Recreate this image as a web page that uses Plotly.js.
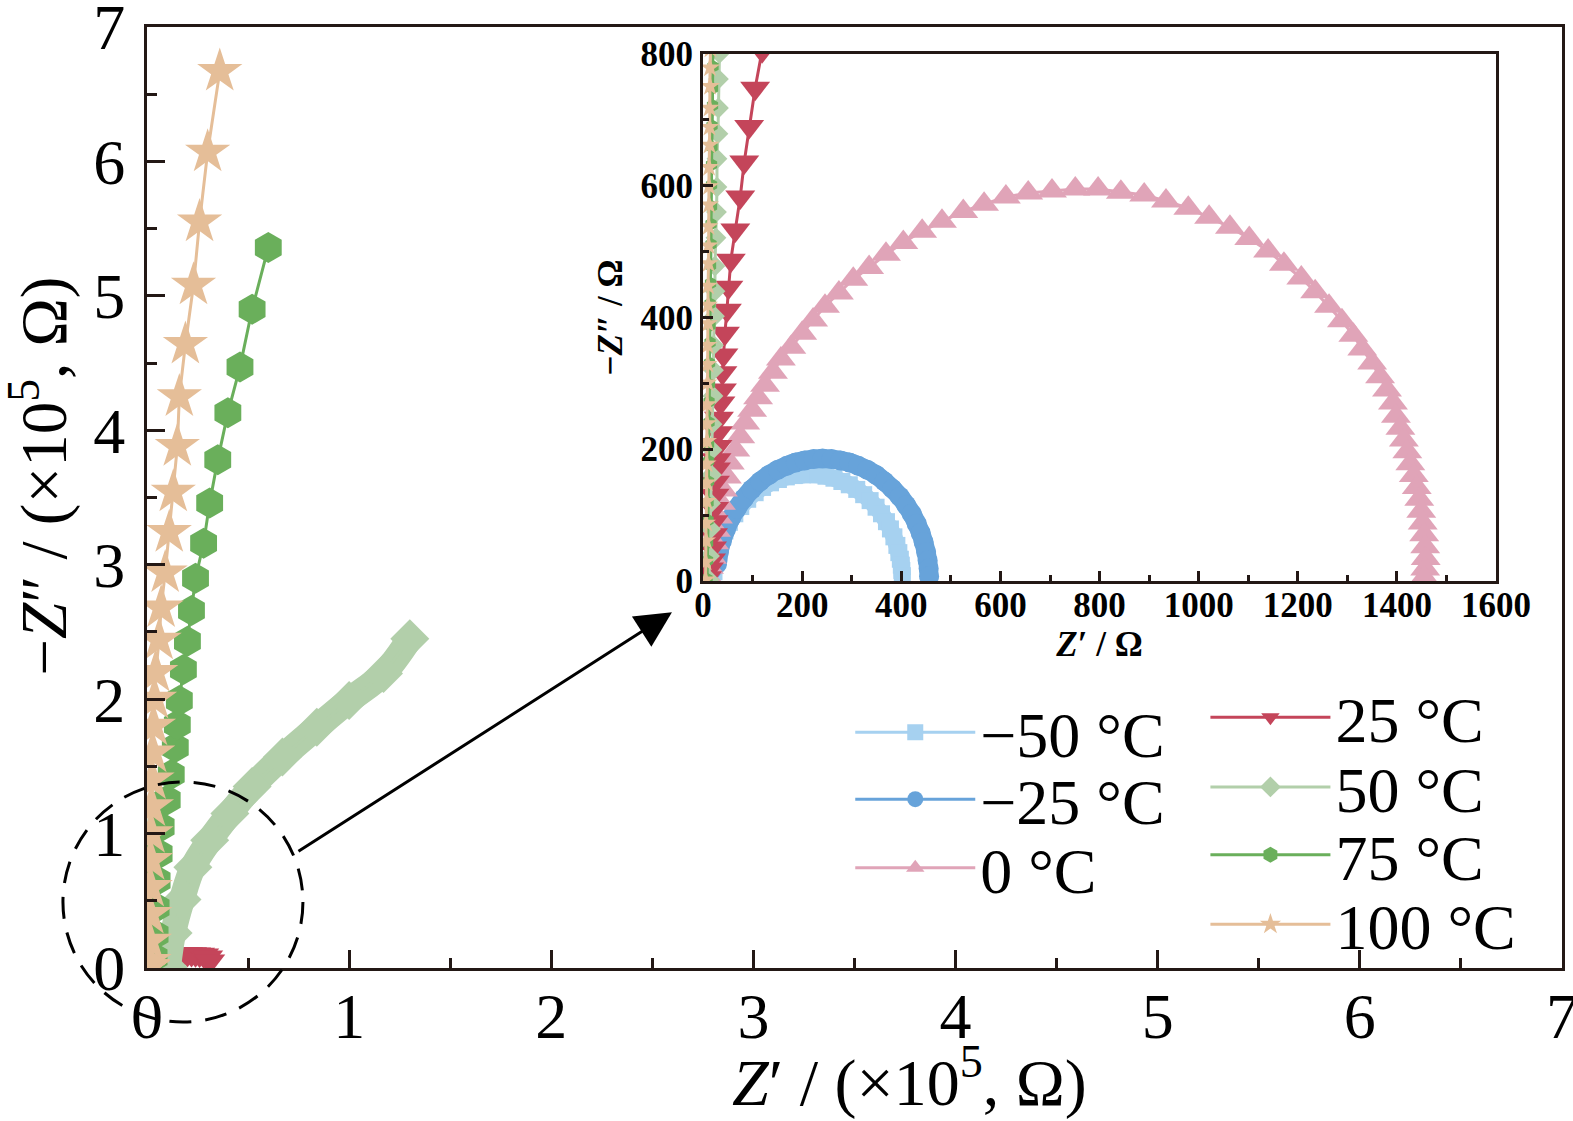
<!DOCTYPE html>
<html>
<head>
<meta charset="utf-8">
<script src="https://cdn.plot.ly/plotly-3.0.1.min.js"></script>
<style>
  html, body { margin: 0; padding: 0; background: #fff; }
  #chart { width: 1573px; height: 1121px; }
</style>
</head>
<body>
<div id="chart"></div>
<script>
// impedance data, Z' and -Z'' in ohm
// -50 C
const re_n50 = [18, 22, 25, 30, 36, 44, 53, 64, 76, 90, 105, 120, 136, 152, 168, 184, 200, 216, 232, 248, 264, 280, 295, 310, 324, 337, 349, 360, 370, 378, 385, 391, 395, 398, 400, 401, 402];
const im_n50 = [6, 14, 29, 46, 61, 76, 89, 102, 113, 124, 134, 142, 149, 154, 158, 160, 161, 162, 161, 159, 156, 151, 146, 139, 131, 122, 112, 102, 90, 79, 67, 54, 43, 33, 24, 16, 8];
// -25 C
const re_n25 = [8, 18, 28, 32, 38, 46, 56, 68, 82, 98, 115, 133, 151, 169, 187, 205, 223, 241, 259, 277, 295, 313, 331, 349, 366, 382, 397, 410, 421, 431, 439, 445, 450, 453, 455, 456];
const im_n25 = [14, 18, 26, 44, 61, 78, 95, 110, 125, 139, 151, 161, 169, 175, 180, 183, 185, 186, 185, 183, 180, 175, 169, 161, 151, 140, 128, 115, 102, 87, 73, 59, 44, 31, 19, 7];
// 0 C
const re_0 = [8, 12, 18, 22, 26, 30, 36, 40, 48, 54, 65, 75, 85, 99, 111, 125, 141, 157, 178, 200, 222, 246, 274, 303, 335, 369, 404, 442, 482, 525, 567, 611, 656, 704, 751, 797, 843, 890, 934, 979, 1021, 1063, 1102, 1140, 1172, 1207, 1235, 1263, 1289, 1312, 1330, 1350, 1366, 1380, 1392, 1398, 1407, 1414, 1421, 1427, 1434, 1440, 1445, 1449, 1452, 1455, 1457, 1458, 1457, 1455];
const im_0 = [8, 21, 36, 58, 77, 97, 118, 138, 158, 179, 199, 219, 240, 259, 278, 297, 317, 337, 355, 376, 396, 417, 437, 458, 476, 496, 514, 531, 546, 561, 572, 583, 589, 592, 595, 595, 590, 586, 577, 566, 552, 537, 520, 501, 481, 460, 439, 417, 395, 373, 352, 331, 310, 290, 270, 250, 232, 214, 196, 178, 160, 142, 124, 106, 88, 70, 52, 34, 18, 5];
// 25 C
const re_25 = [8, 12, 16, 18, 20, 21, 22, 23, 24, 26, 27, 29, 30, 32, 35, 38, 39, 41, 44, 48, 51, 56, 65, 75, 83, 93, 105, 119, 134,
  11000, 12500, 14000, 16000, 18000, 20000, 22000, 24000, 26000, 28000, 30000, 31000];
const im_25 = [5, 18, 32, 50, 70, 90, 110, 130, 150, 170, 184, 204, 225, 247, 270, 290, 316, 343, 376, 411, 446, 487, 533, 583, 636, 690, 748, 805, 865,
  2000, 5000, 8000, 10000, 10500, 10500, 10500, 10300, 10000, 9500, 8000, 5000];
// 50 C
const re_50 = [12, 13, 15, 15, 17, 18, 18, 20, 21, 21, 23, 24, 24, 26, 27, 28, 28, 30, 31, 31, 33, 34,
  10400, 12900, 17300, 22700, 31000, 41000, 52000, 67000, 84000, 100000, 117000, 130000];
const im_50 = [2, 38, 79, 118, 161, 199, 238, 281, 320, 358, 402, 440, 478, 521, 560, 598, 641, 679, 718, 762, 801, 839,
  700, 26000, 51000, 75000, 95000, 115000, 135000, 157000, 179000, 199000, 219000, 245000];
// 75 C
const re_75 = [8, 9, 9, 10, 10, 11, 11, 11, 12, 12, 13, 13, 14, 14, 14, 15, 15, 16, 16, 17, 17, 17, 18, 18, 19, 19, 20, 20,
  3500, 4000, 4500, 5000, 6000, 7000, 10000, 12000, 14000, 15000, 16000, 18000, 20000, 22000, 24000, 28000, 31000, 35000, 40000, 46000, 52000, 60000];
const im_75 = [3, 31, 58, 92, 119, 151, 182, 208, 241, 272, 299, 331, 362, 388, 421, 452, 479, 511, 542, 569, 601, 632, 659, 691, 722, 748, 781, 812,
  8000, 25000, 45000, 65000, 85000, 105000, 125000, 144000, 164000, 181000, 199000, 222000, 243000, 266000, 290000, 316000, 346000, 378000, 413000, 447000, 490000, 536000];
// 100 C
const re_100 = [5, 5, 6, 6, 7, 7, 7, 8, 8, 8, 9, 9, 9, 10, 10, 10, 11, 11, 11, 12, 12, 12, 13, 13, 13, 14, 14, 15,
  1000, 1200, 1400, 1600, 1800, 2000, 2200, 2500, 2800, 3200, 3700, 4300, 6000, 7000, 9000, 11000, 13000, 15000, 16000, 19000, 23000, 26000, 30000, 36000];
const im_100 = [2, 29, 61, 88, 121, 149, 178, 212, 239, 268, 301, 329, 358, 391, 419, 448, 482, 509, 538, 571, 599, 628, 662, 689, 718, 751, 779, 808,
  5000, 20000, 40000, 60000, 80000, 100000, 120000, 140000, 160000, 180000, 200000, 220000, 244000, 268000, 294000, 324000, 354000, 388000, 425000, 464000, 508000, 555000, 607000, 667000];

const names = ['\u221250 \u00b0C', '\u221225 \u00b0C', '0 \u00b0C', '25 \u00b0C', '50 \u00b0C', '75 \u00b0C', '100 \u00b0C'];

const series = [
  {re: re_n50, im: im_n50, color: '#a6d1f0', symbol: 'square',        sMain: 26, sIn: 17, bandIn: 17},
  {re: re_n25, im: im_n25, color: '#67a3da', symbol: 'circle',        sMain: 26, sIn: 20, bandIn: 19},
  {re: re_0,   im: im_0,   color: '#e0a4b8', symbol: 'triangle-up',   sMain: 26, sIn: 26},
  {re: re_25,  im: im_25,  color: '#c4455a', symbol: 'triangle-down', sMain: 27, sIn: 26},
  {re: re_50,  im: im_50,  color: '#b2cfaa', symbol: 'diamond',       sMain: 30, sIn: 16, bandMain: 26},
  {re: re_75,  im: im_75,  color: '#6aaf5b', symbol: 'hexagon',       sMain: 31, sIn: 13},
  {re: re_100, im: im_100, color: '#e5be98', symbol: 'star',          sMain: 34, sIn: 15}
];

const serif = 'Liberation Serif, Times New Roman, serif';
const ink = '#231815';

let traces = [];
series.forEach(function(s, i) {
  let xm = s.re.map(v => v / 1e5);
  let ym = s.im.map(v => v / 1e5);
  if (s.bandMain) {
    let bx = [], by = [];
    for (let k = 0; k < s.re.length; k++) {
      if (s.re[k] > 1000) { bx.push(xm[k]); by.push(ym[k]); }
    }
    traces.push({x: bx, y: by, xaxis: 'x', yaxis: 'y', mode: 'lines', showlegend: false,
      line: {color: s.color, width: s.bandMain, shape: 'spline'}, hoverinfo: 'skip'});
  }
  traces.push({x: xm, y: ym, xaxis: 'x', yaxis: 'y', mode: 'lines+markers',
    name: names[i], legend: i === 0 ? 'legend' : 'legend' + (i + 1),
    line: {color: s.color, width: 3},
    marker: {symbol: s.symbol, size: s.sMain, color: s.color}});

  if (s.bandIn) {
    traces.push({x: s.re, y: s.im, xaxis: 'x2', yaxis: 'y2', mode: 'lines', showlegend: false,
      line: {color: s.color, width: s.bandIn, shape: 'spline'}, hoverinfo: 'skip'});
  }
  traces.push({x: s.re, y: s.im, xaxis: 'x2', yaxis: 'y2', mode: 'lines+markers', showlegend: false,
    line: {color: s.color, width: 3},
    marker: {symbol: s.symbol, size: s.sIn, color: s.color}});
});

// legend rows (paper coords): two columns
const legX = [0.497, 0.497, 0.497, 0.748, 0.748, 0.748, 0.748];
const legY = [0.250, 0.179, 0.106, 0.266, 0.192, 0.120, 0.046];

function mainAxis(extra) {
  return Object.assign({
    range: [0, 7], dtick: 1, tick0: 0,
    ticks: 'inside', ticklen: 18, tickwidth: 3, tickcolor: ink,
    showline: true, linewidth: 3, linecolor: ink, mirror: true,
    showgrid: false, zeroline: false, fixedrange: true,
    ticklabeloverflow: 'allow',
    tickfont: {family: serif, size: 64, color: '#000'},
    minor: {dtick: 0.5, tick0: 0, ticks: 'inside', ticklen: 10, tickwidth: 3, tickcolor: ink, showgrid: false},
    automargin: false
  }, extra);
}

function insetAxis(extra) {
  return Object.assign({
    ticks: 'inside', ticklen: 10, tickwidth: 3, tickcolor: ink,
    showline: true, linewidth: 3, linecolor: ink, mirror: true,
    showgrid: false, zeroline: false, fixedrange: true,
    ticklabeloverflow: 'allow',
    tickfont: {family: serif, size: 35, color: '#000', weight: 'bold'},
    minor: {dtick: 100, tick0: 0, ticks: 'inside', ticklen: 6, tickwidth: 3, tickcolor: ink, showgrid: false},
    automargin: false
  }, extra);
}

let layout = {
  width: 1573, height: 1121,
  margin: {l: 147, r: 11, t: 27, b: 153},
  paper_bgcolor: '#fff', plot_bgcolor: '#fff',
  font: {family: serif, color: '#000'},
  xaxis: mainAxis({ticklabelstandoff: -10}),
  yaxis: mainAxis({ticklabelstandoff: 6}),
  xaxis2: insetAxis({
    domain: [0.393, 0.9534], anchor: 'y2', range: [0, 1600], dtick: 200, tick0: 0,
    ticklabelstandoff: -9,
    title: {text: '<b><i>Z</i>\u2032 / \u03a9</b>', font: {family: serif, size: 35, weight: 'bold'}, standoff: 4}
  }),
  yaxis2: insetAxis({
    domain: [0.4113, 0.9713], anchor: 'x2', range: [0, 800], dtick: 200, tick0: 0,
    title: {text: '<b>\u2212<i>Z</i>\u2033 / \u03a9</b>', font: {family: serif, size: 35, weight: 'bold'}, standoff: 8}
  }),
  shapes: [{
    type: 'circle', xref: 'paper', yref: 'paper',
    x0: -0.0594, x1: 0.1102, y0: -0.0574, y1: 0.1977,
    line: {color: '#000', width: 3, dash: '22px,14px'}
  }],
  annotations: [
    {
      xref: 'paper', yref: 'paper', x: 0.371, y: 0.378,
      ax: -375, ay: 240, showarrow: true, text: '',
      arrowhead: 2, arrowsize: 2.4, arrowwidth: 3, arrowcolor: '#000'
    },
    {
      xref: 'paper', yref: 'paper', x: 0.539, y: -0.117, xanchor: 'center', yanchor: 'middle',
      showarrow: false, text: '<i>Z</i>\u2032 / (\u00d710<sup>5</sup>, \u03a9)',
      font: {family: serif, size: 66, color: '#000'}
    },
    {
      xref: 'paper', yref: 'paper', x: -0.0765, y: 0.523, xanchor: 'center', yanchor: 'middle',
      textangle: -90, showarrow: false, text: '\u2212<i>Z</i>\u2033 / (\u00d710<sup>5</sup>, \u03a9)',
      font: {family: serif, size: 65, color: '#000'}
    }
  ]
};

for (let i = 0; i < 7; i++) {
  let key = i === 0 ? 'legend' : 'legend' + (i + 1);
  layout[key] = {
    x: legX[i], y: legY[i], xanchor: 'left', yanchor: 'middle',
    bgcolor: 'rgba(0,0,0,0)', borderwidth: 0,
    itemwidth: 120,
    font: {family: serif, size: 64, color: '#000'}
  };
}

Plotly.newPlot('chart', traces, layout, {displayModeBar: false, staticPlot: true});
</script>
</body>
</html>
